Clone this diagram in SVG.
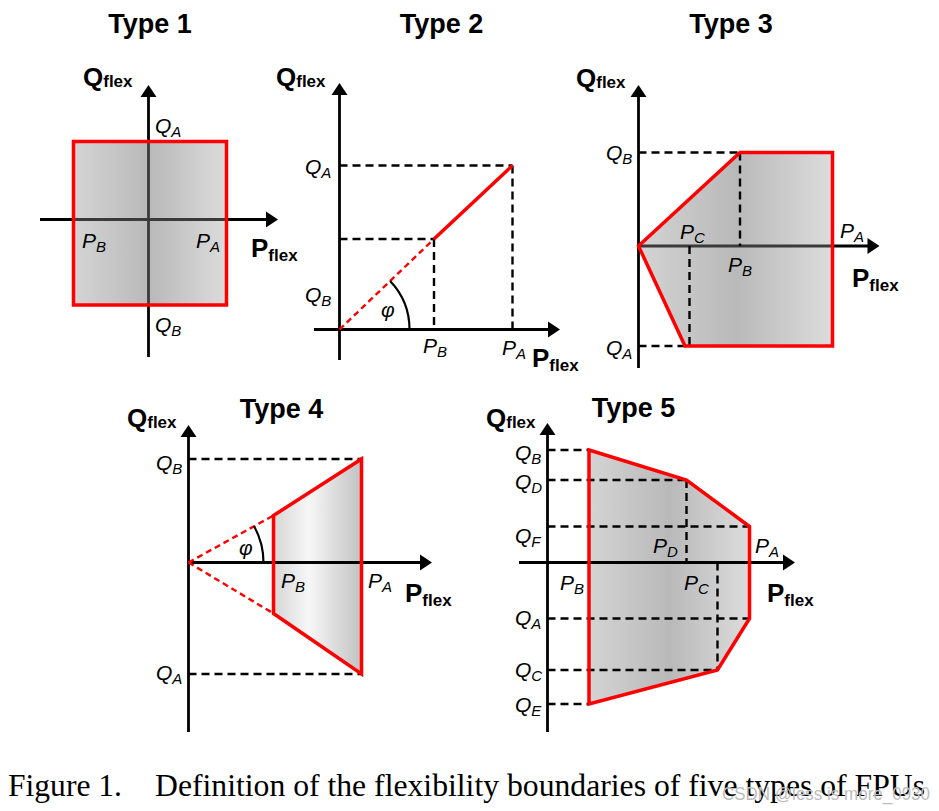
<svg xmlns="http://www.w3.org/2000/svg" xmlns:xlink="http://www.w3.org/1999/xlink" width="939" height="811" viewBox="0 0 939 811">
<style>
.title{font-family:"Liberation Sans",Arial,sans-serif;font-weight:bold;font-size:27px;fill:#000;text-anchor:middle}
.ax{stroke:#000;stroke-width:2.8;fill:none}
.axin{stroke:#3a3a3a;stroke-width:2.8;fill:none}
.bnd{stroke:#ff0000;stroke-width:3.5;fill:none;stroke-linejoin:miter}
.dash{stroke:#000;stroke-width:2.4;stroke-dasharray:8 5;fill:none}
.rdash{stroke:#ff0000;stroke-width:2.4;stroke-dasharray:6 4;fill:none}
.arc{stroke:#000;stroke-width:2.2;fill:none}
.lbl{font-family:"Liberation Sans",Arial,sans-serif;font-style:italic;font-size:21px;fill:#000}
.sub{font-size:15px}
.axl{font-family:"Liberation Sans",Arial,sans-serif;font-weight:bold;font-size:26px;fill:#000}
.axs{font-size:17px}
.cap{font-family:"Liberation Serif","Times New Roman",serif;font-size:32px;fill:#000}
.wm{font-family:"Liberation Sans",Arial,sans-serif;font-size:19px;fill:#bdbdbd}
</style>
<defs>
<path id="ah" d="M0,0 L-12,-8 L-12,8 z" fill="#000"/>
<linearGradient id="gA" x1="0" y1="0" x2="1" y2="0">
<stop offset="0" stop-color="#d4d4d4"/>
<stop offset="0.5" stop-color="#b9b9b9"/>
<stop offset="1" stop-color="#dcdcdc"/>
</linearGradient>
<linearGradient id="gB" x1="0" y1="0" x2="1" y2="0">
<stop offset="0" stop-color="#d6d6d6"/>
<stop offset="0.4" stop-color="#f7f7f7"/>
<stop offset="1" stop-color="#c2c2c2"/>
</linearGradient>
</defs>

<g id="type1">
<text class="title" x="150" y="33">Type 1</text>
<rect x="73.5" y="141.5" width="153" height="163.5" fill="url(#gA)"/>
<line class="ax" x1="148.5" y1="96" x2="148.5" y2="141.5"/>
<line class="ax" x1="148.5" y1="305" x2="148.5" y2="357"/>
<line class="axin" x1="148.5" y1="141.5" x2="148.5" y2="305"/>
<line class="ax" x1="40" y1="219.5" x2="73.5" y2="219.5"/>
<line class="ax" x1="226.5" y1="219.5" x2="267" y2="219.5"/>
<line class="axin" x1="73.5" y1="219.5" x2="226.5" y2="219.5"/>
<use xlink:href="#ah" transform="translate(148.5,85) rotate(-90)"/>
<use xlink:href="#ah" transform="translate(278,219.5)"/>
<rect class="bnd" x="73.5" y="141.5" width="153" height="163.5"/>
<text class="lbl" x="155" y="133">Q<tspan class="sub" dy="4">A</tspan></text>
<text class="lbl" x="82" y="248">P<tspan class="sub" dy="4">B</tspan></text>
<text class="lbl" x="196" y="248">P<tspan class="sub" dy="4">A</tspan></text>
<text class="lbl" x="155" y="332">Q<tspan class="sub" dy="4">B</tspan></text>
<text class="axl" x="83" y="86">Q<tspan class="axs" dy="1">flex</tspan></text>
<text class="axl" x="251" y="257">P<tspan class="axs" dy="4">flex</tspan></text>
</g>

<g id="type2">
<text class="title" x="441.5" y="33">Type 2</text>
<line class="ax" x1="339.5" y1="94" x2="339.5" y2="360"/>
<line class="ax" x1="314" y1="329.5" x2="549" y2="329.5"/>
<use xlink:href="#ah" transform="translate(339.5,83) rotate(-90)"/>
<use xlink:href="#ah" transform="translate(560,329.5)"/>
<line class="dash" x1="339.5" y1="165.5" x2="512.5" y2="165.5"/>
<line class="dash" x1="512.5" y1="165.5" x2="512.5" y2="329.5"/>
<line class="dash" x1="339.5" y1="239" x2="434" y2="239"/>
<line class="dash" x1="434" y1="239" x2="434" y2="329.5"/>
<line class="rdash" x1="339.5" y1="329.5" x2="434" y2="239"/>
<line class="bnd" x1="434" y1="239" x2="512.5" y2="165.5"/>
<path class="arc" d="M390.1,281.1 A70,70 0 0 1 409.5,329.5"/>
<text class="lbl" x="381" y="317">φ</text>
<text class="lbl" x="305" y="174">Q<tspan class="sub" dy="4">A</tspan></text>
<text class="lbl" x="305" y="302">Q<tspan class="sub" dy="4">B</tspan></text>
<text class="lbl" x="423" y="353">P<tspan class="sub" dy="4">B</tspan></text>
<text class="lbl" x="502" y="355">P<tspan class="sub" dy="4">A</tspan></text>
<text class="axl" x="276" y="86">Q<tspan class="axs" dy="1">flex</tspan></text>
<text class="axl" x="532" y="367">P<tspan class="axs" dy="4">flex</tspan></text>
</g>

<g id="type3">
<text class="title" x="731" y="33">Type 3</text>
<polygon points="638.5,246 740,152.5 832.5,152.5 832.5,346 685,346" fill="url(#gA)"/>
<line class="ax" x1="638.5" y1="96" x2="638.5" y2="368"/>
<line class="axin" x1="638.5" y1="246" x2="832.5" y2="246"/>
<line class="ax" x1="832.5" y1="246" x2="868" y2="246"/>
<use xlink:href="#ah" transform="translate(638.5,85) rotate(-90)"/>
<use xlink:href="#ah" transform="translate(879.5,246)"/>
<line class="dash" x1="638.5" y1="152.5" x2="740" y2="152.5"/>
<line class="dash" x1="740" y1="152.5" x2="740" y2="246"/>
<line class="dash" x1="638.5" y1="346" x2="685" y2="346"/>
<line class="dash" x1="689.5" y1="246" x2="689.5" y2="346"/>
<polygon class="bnd" points="638.5,246 740,152.5 832.5,152.5 832.5,346 685,346"/>
<text class="lbl" x="606" y="160">Q<tspan class="sub" dy="4">B</tspan></text>
<text class="lbl" x="606" y="355">Q<tspan class="sub" dy="4">A</tspan></text>
<text class="lbl" x="680" y="239">P<tspan class="sub" dy="4">C</tspan></text>
<text class="lbl" x="728" y="272">P<tspan class="sub" dy="4">B</tspan></text>
<text class="lbl" x="840" y="238">P<tspan class="sub" dy="4">A</tspan></text>
<text class="axl" x="576" y="87">Q<tspan class="axs" dy="1">flex</tspan></text>
<text class="axl" x="852" y="287">P<tspan class="axs" dy="4">flex</tspan></text>
</g>

<g id="type4">
<text class="title" x="281.5" y="418">Type 4</text>
<polygon points="273.5,515.5 361.5,459 361.5,674 273.5,613.5" fill="url(#gB)"/>
<line class="ax" x1="188.5" y1="436" x2="188.5" y2="732"/>
<line class="ax" x1="188.5" y1="562.5" x2="421" y2="562.5"/>
<use xlink:href="#ah" transform="translate(188.5,425) rotate(-90)"/>
<use xlink:href="#ah" transform="translate(432,562.5)"/>
<line class="dash" x1="188.5" y1="459" x2="361.5" y2="459"/>
<line class="dash" x1="188.5" y1="674" x2="361.5" y2="674"/>
<line class="rdash" x1="188.5" y1="562.5" x2="273.5" y2="515.5"/>
<line class="rdash" x1="188.5" y1="562.5" x2="273.5" y2="613.5"/>
<path class="arc" d="M254.1,526.2 A75,75 0 0 1 263.5,562.5"/>
<polygon class="bnd" points="273.5,515.5 361.5,459 361.5,674 273.5,613.5"/>
<text class="lbl" x="239" y="555">φ</text>
<text class="lbl" x="156" y="470">Q<tspan class="sub" dy="4">B</tspan></text>
<text class="lbl" x="156" y="680">Q<tspan class="sub" dy="4">A</tspan></text>
<text class="lbl" x="281" y="588">P<tspan class="sub" dy="4">B</tspan></text>
<text class="lbl" x="368" y="588">P<tspan class="sub" dy="4">A</tspan></text>
<text class="axl" x="127" y="427">Q<tspan class="axs" dy="1">flex</tspan></text>
<text class="axl" x="405" y="602">P<tspan class="axs" dy="4">flex</tspan></text>
</g>

<g id="type5">
<text class="title" x="633.5" y="417">Type 5</text>
<polygon points="589,450 686.5,480 749.5,526.5 749.5,618.5 717.5,670 589,704" fill="url(#gA)"/>
<line class="ax" x1="547.5" y1="434" x2="547.5" y2="732"/>
<line class="ax" x1="519" y1="562.5" x2="784" y2="562.5"/>
<use xlink:href="#ah" transform="translate(547.5,423) rotate(-90)"/>
<use xlink:href="#ah" transform="translate(795,562.5)"/>
<line class="dash" x1="547.5" y1="450" x2="589" y2="450"/>
<line class="dash" x1="547.5" y1="480" x2="686.5" y2="480"/>
<line class="dash" x1="547.5" y1="526.5" x2="749.5" y2="526.5"/>
<line class="dash" x1="547.5" y1="618.5" x2="749.5" y2="618.5"/>
<line class="dash" x1="547.5" y1="670" x2="717.5" y2="670"/>
<line class="dash" x1="547.5" y1="704" x2="589" y2="704"/>
<line class="dash" x1="686.5" y1="480" x2="686.5" y2="562.5"/>
<line class="dash" x1="717.5" y1="562.5" x2="717.5" y2="670"/>
<polygon class="bnd" points="589,450 686.5,480 749.5,526.5 749.5,618.5 717.5,670 589,704"/>
<text class="lbl" x="515" y="460">Q<tspan class="sub" dy="4">B</tspan></text>
<text class="lbl" x="515" y="489">Q<tspan class="sub" dy="4">D</tspan></text>
<text class="lbl" x="515" y="543">Q<tspan class="sub" dy="4">F</tspan></text>
<text class="lbl" x="515" y="625">Q<tspan class="sub" dy="4">A</tspan></text>
<text class="lbl" x="515" y="677">Q<tspan class="sub" dy="4">C</tspan></text>
<text class="lbl" x="515" y="712">Q<tspan class="sub" dy="4">E</tspan></text>
<text class="lbl" x="653" y="553">P<tspan class="sub" dy="4">D</tspan></text>
<text class="lbl" x="755" y="553">P<tspan class="sub" dy="4">A</tspan></text>
<text class="lbl" x="560" y="590">P<tspan class="sub" dy="4">B</tspan></text>
<text class="lbl" x="684" y="590">P<tspan class="sub" dy="4">C</tspan></text>
<text class="axl" x="486" y="427">Q<tspan class="axs" dy="1">flex</tspan></text>
<text class="axl" x="767" y="602">P<tspan class="axs" dy="4">flex</tspan></text>
</g>

<g id="caption">
<text class="cap" x="8" y="796" textLength="114" lengthAdjust="spacingAndGlyphs">Figure 1.</text>
<text class="cap" x="155" y="796" textLength="770" lengthAdjust="spacingAndGlyphs">Definition of the flexibility boundaries of five types of FPUs</text>
<text class="wm" x="722" y="800" textLength="208" lengthAdjust="spacingAndGlyphs">CSDN @less is more_0930</text>
</g>
</svg>
